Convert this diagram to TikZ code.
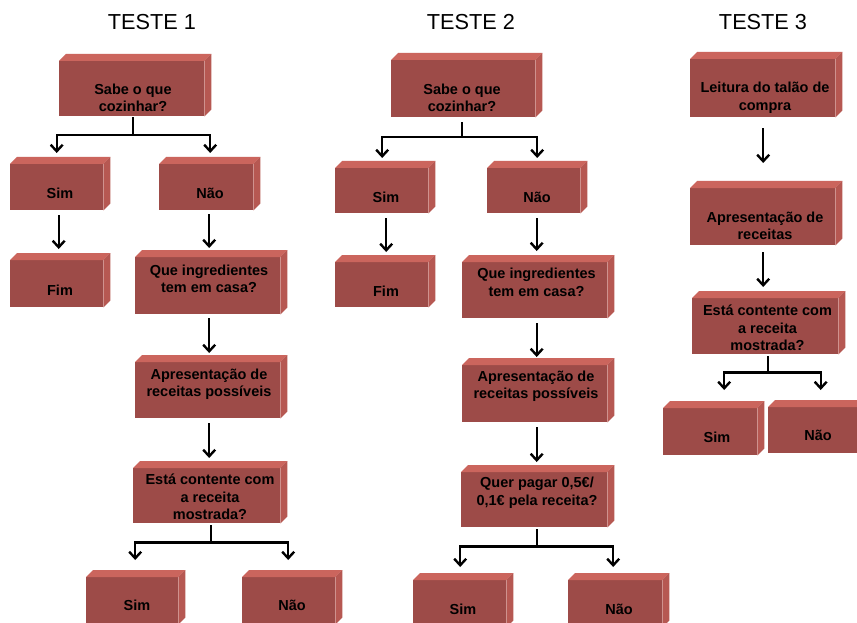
\documentclass[tikz,border=0pt]{standalone}
\usepackage{fontspec}
\setmainfont{Liberation Sans}
\usetikzlibrary{arrows.meta,calc}
\definecolor{cfront}{RGB}{157,75,72}
\definecolor{ctop}{RGB}{203,101,93}
\definecolor{cside}{RGB}{182,88,82}
\tikzset{
  box/.style={fill=cfront, draw=none, inner sep=0pt, anchor=north west},
  lbl/.style={font=\fontsize{14.5}{17.5}\selectfont\bfseries, align=center, inner sep=0pt, text=black},
  ttl/.style={font=\fontsize{21.7}{25}\selectfont, inner sep=0pt},
  arr/.style={line width=2.2pt, -{Straight Barb[length=6.5pt,width=12pt,line width=2.4pt]}},
}
% \cubebox{name}{x1}{y1}{width}{height}
\newcommand\cubebox[5]{%
  \node[box, minimum width=#4pt, minimum height=#5pt] (#1) at (#2,#3) {};
  \fill[ctop] (#1.north west) -- ++(7pt,7pt) -- ([shift={(7pt,7pt)}]#1.north east) -- (#1.north east) -- cycle;
  \fill[cside] (#1.north east) -- ++(7pt,7pt) -- ([shift={(7pt,7pt)}]#1.south east) -- (#1.south east) -- cycle;
}
\begin{document}
\begin{tikzpicture}[x=1pt,y=-1pt]
\useasboundingbox (0,0) rectangle (857,623);
\clip (0,0) rectangle (857,623);
\fill[white] (0,0) rectangle (857,623);

% titles
\node[ttl] (t1) at (152,22) {TESTE 1};
\node[ttl] (t2) at (471,22) {TESTE 2};
\node[ttl] (t3) at (763,22) {TESTE 3};

% ---------- TESTE 1 ----------
\cubebox{A1}{59}{61}{145}{55}
\cubebox{B1}{10}{164}{93}{46}
\cubebox{C1}{159}{164}{94}{46}
\cubebox{D1}{10}{260}{93}{47}
\cubebox{E1}{135}{257}{145}{57}
\cubebox{F1}{135}{362}{145}{56}
\cubebox{G1}{133}{468}{147}{55}
\cubebox{H1}{86}{577}{92}{47}
\cubebox{I1}{242}{577}{93}{47}
\node[lbl] (A1t) at (133,98) {Sabe o que\\cozinhar?};
\node[lbl] (B1t) at (60,193) {Sim};
\node[lbl] (C1t) at (210,193) {Não};
\node[lbl] (D1t) at (60,290) {Fim};
\node[lbl] (E1t) at (209,279) {Que ingredientes\\tem em casa?};
\node[lbl] (F1t) at (209,384) {Apresentação de\\receitas possíveis};
\node[lbl] (G1t) at (210,497) {Está contente com\\a receita\\mostrada?};
\node[lbl] (H1t) at (137,605) {Sim};
\node[lbl] (I1t) at (292,605) {Não};

\draw[arr] ([xshift=1pt,yshift=-1pt]A1.south) -- ++(0,18) -| ([yshift=11pt]B1.north);
\draw[arr] ([xshift=1pt,yshift=-1pt]A1.south) -- ++(0,18) -| ([xshift=4pt,yshift=11pt]C1.north);
\draw[arr] ([xshift=2pt,yshift=-5pt]B1.south) -- ([xshift=2pt,yshift=11pt]D1.north);
\draw[arr] ([xshift=3pt,yshift=-4pt]C1.south) -- ([xshift=1.5pt,yshift=9pt]E1.north);
\draw[arr] ([xshift=1.5pt,yshift=-4pt]E1.south) -- ([xshift=1.5pt,yshift=9pt]F1.north);
\draw[arr] ([xshift=1.5pt,yshift=-5pt]F1.south) -- ([xshift=2.5pt,yshift=10pt]G1.north);
\draw[arr] ([xshift=4.5pt,yshift=-2pt]G1.south) -- ++(0,17) -| ([xshift=3pt,yshift=17pt]H1.north);
\draw[arr] ([xshift=4.5pt,yshift=-2pt]G1.south) -- ++(0,17) -| ([xshift=-0.5pt,yshift=17pt]I1.north);

% ---------- TESTE 2 ----------
\cubebox{A2}{391}{60}{144}{57}
\cubebox{B2}{335}{168}{93}{45}
\cubebox{C2}{487}{168}{93}{45}
\cubebox{D2}{335}{262}{93}{45}
\cubebox{E2}{462}{262}{145}{56}
\cubebox{F2}{462}{365}{145}{57}
\cubebox{G2}{461}{472}{146}{55}
\cubebox{H2}{413}{580}{93}{47}
\cubebox{I2}{568}{580}{94}{47}
\node[lbl] (A2t) at (462,98) {Sabe o que\\cozinhar?};
\node[lbl] (B2t) at (386,197) {Sim};
\node[lbl] (C2t) at (537,197) {Não};
\node[lbl] (D2t) at (386,291) {Fim};
\node[lbl] (E2t) at (536.5,282.5) {Que ingredientes\\tem em casa?};
\node[lbl] (F2t) at (536,386) {Apresentação de\\receitas possíveis};
\node[lbl] (G2t) at (537,492.5) {Quer pagar 0,5€/\\0,1€ pela receita?};
\node[lbl] (H2t) at (463,609) {Sim};
\node[lbl] (I2t) at (619,609) {Não};

\draw[arr] ([xshift=-1pt,yshift=-5pt]A2.south) -- ++(0,15) -| ([xshift=0.5pt,yshift=10pt]B2.north);
\draw[arr] ([xshift=-1pt,yshift=-5pt]A2.south) -- ++(0,15) -| ([xshift=3.5pt,yshift=10pt]C2.north);
\draw[arr] ([xshift=4.5pt,yshift=-5pt]B2.south) -- ([xshift=4.5pt,yshift=10pt]D2.north);
\draw[arr] ([xshift=3pt,yshift=-5pt]C2.south) -- ([xshift=2pt,yshift=11pt]E2.north);
\draw[arr] ([xshift=2pt,yshift=-5pt]E2.south) -- ([xshift=2pt,yshift=8pt]F2.north);
\draw[arr] ([xshift=2pt,yshift=-5pt]F2.south) -- ([xshift=2.5pt,yshift=10pt]G2.north);
\draw[arr] ([xshift=3pt,yshift=-2pt]G2.south) -- ++(0,17) -| ([xshift=0.5pt,yshift=13pt]H2.north);
\draw[arr] ([xshift=3pt,yshift=-2pt]G2.south) -- ++(0,17) -| ([xshift=-2pt,yshift=13pt]I2.north);

% ---------- TESTE 3 ----------
\cubebox{A3}{690}{59}{145}{58}
\cubebox{B3}{690}{188}{145}{57}
\cubebox{C3}{692}{298}{146}{56}
\cubebox{D3}{663}{408}{94}{47}
\cubebox{E3}{768}{407}{95}{46}
\node[lbl] (A3t) at (765,98) {Leitura do talão de\\compra};
\node[lbl] (B3t) at (765,226) {Apresentação de\\receitas};
\node[lbl] (C3t) at (767.5,328) {Está contente com\\a receita\\mostrada?};
\node[lbl] (D3t) at (717,437) {Sim};
\node[lbl] (E3t) at (818,435) {Não};

\draw[arr] ([xshift=0.5pt,yshift=-11pt]A3.south) -- ([xshift=0.5pt,yshift=25pt]B3.north);
\draw[arr] ([xshift=0.5pt,yshift=-7pt]B3.south) -- ([xshift=-2pt,yshift=11pt]C3.north);
\draw[arr] ([xshift=3pt,yshift=-2pt]C3.south) -- ++(0,16) -| ([xshift=14pt,yshift=18pt]D3.north);
\draw[arr] ([xshift=3pt,yshift=-2pt]C3.south) -- ++(0,16) -| ([xshift=5pt,yshift=17pt]E3.north);
\end{tikzpicture}
\end{document}
